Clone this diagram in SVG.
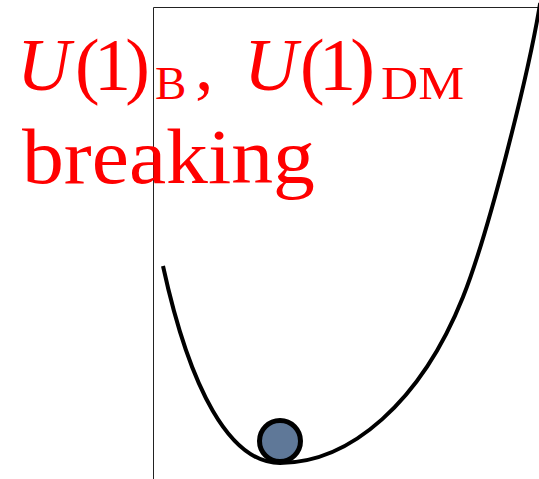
<svg xmlns="http://www.w3.org/2000/svg" width="539" height="479" viewBox="0 0 539 479">
<style>
.frame{fill:none;stroke:#222;stroke-width:1}
.curve{fill:none;stroke:#000;stroke-width:4;stroke-linejoin:round}
.lbl{fill:#ff0000;font-family:'Liberation Serif','Times New Roman',serif}
</style>
<rect width="539" height="479" fill="#fff"/>
<g id="axes">
<path class="frame" d="M153.5,479 V7.5 H539"/>
</g>
<g id="potential">
<path class="curve" d="M163,266 C190,390 230,463 280,463 C350,463 421,402 463,297 C488,234.5 527,79.6 539,10 L540.2,3"/>
</g>
<g id="ball">
<circle cx="280" cy="441" r="20.5" fill="#5f7898" stroke="#000" stroke-width="5"/>
</g>
<g id="label">
<text class="lbl" font-family="Liberation Serif, serif" y="90" font-size="74"><tspan x="17" font-style="italic">U</tspan><tspan x="75" textLength="75">(1)</tspan><tspan x="155" y="99" font-size="47">B</tspan><tspan x="195" y="90">,</tspan><tspan x="244" font-style="italic">U</tspan><tspan x="300" textLength="75">(1)</tspan><tspan x="381" y="99" font-size="47" textLength="83" lengthAdjust="spacingAndGlyphs">DM</tspan></text>
<text class="lbl" font-family="Liberation Serif, serif" x="22" y="183" font-size="78" textLength="293" lengthAdjust="spacingAndGlyphs">breaking</text>
</g>
</svg>
